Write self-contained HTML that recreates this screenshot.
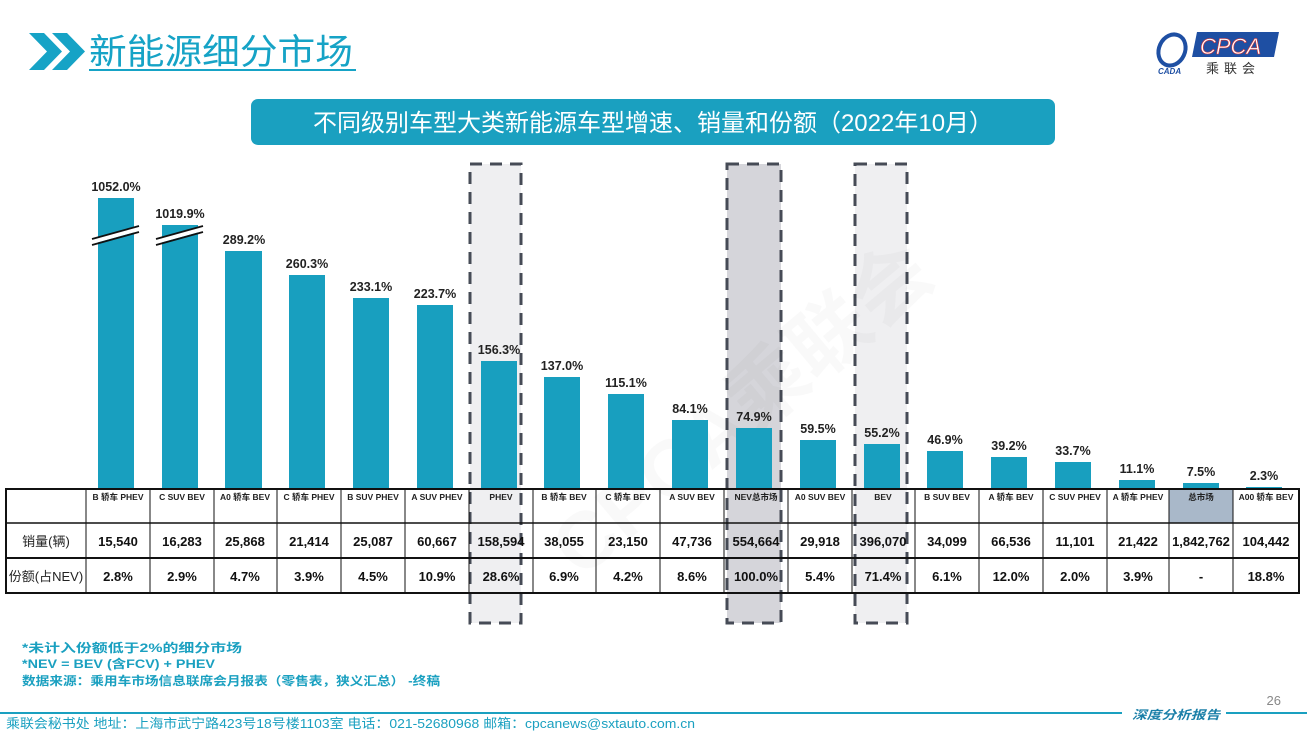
<!DOCTYPE html>
<html><head><meta charset="utf-8"><style>
html,body{margin:0;padding:0;background:#fff;}
svg{display:block;}
text{font-family:"Liberation Sans","Noto Sans CJK SC",sans-serif;}
</style></head><body>
<svg width="1307" height="736" viewBox="0 0 1307 736" xmlns="http://www.w3.org/2000/svg">
<polygon points="29,33 44,33 62,51.5 44,70 29,70 47,51.5" fill="#16a3c6"/>
<polygon points="52,33 67,33 85,51.5 67,70 52,70 70,51.5" fill="#16a3c6"/>
<text x="89" y="64" font-size="35" fill="#16a3c6" textLength="264" lengthAdjust="spacingAndGlyphs">新能源细分市场</text>
<line x1="89" y1="70" x2="356" y2="70" stroke="#16a3c6" stroke-width="2"/>
<ellipse cx="1172" cy="50" rx="13" ry="16" fill="none" stroke="#1e4fa3" stroke-width="4" transform="rotate(25 1172 50)"/>
<text x="1158" y="74" font-size="8" font-weight="bold" font-style="italic" fill="#1e4fa3">CADA</text>
<polygon points="1197,32 1279,32 1274,57 1192,57" fill="#1e4fa3"/>
<text x="1200" y="54" font-size="22" font-style="italic" fill="#fff" stroke="#d33" stroke-width="0.6">CPCA</text>
<text x="1206" y="73" font-size="13" fill="#333" letter-spacing="5">乘联会</text>
<rect x="251" y="99" width="804" height="46" rx="7" fill="#1aa0c0"/>
<text x="653" y="131" font-size="24" fill="#fff" text-anchor="middle">不同级别车型大类新能源车型增速、销量和份额（2022年10月）</text>
<rect x="470" y="164" width="51" height="459" fill="#efeff1" stroke="#464b56" stroke-width="3" stroke-dasharray="12,8"/>
<rect x="727" y="164" width="54" height="459" fill="#d5d5da" stroke="#464b56" stroke-width="3" stroke-dasharray="12,8"/>
<rect x="855" y="164" width="52" height="459" fill="#efeff1" stroke="#464b56" stroke-width="3" stroke-dasharray="12,8"/>
<text x="760" y="430" font-size="80" font-weight="bold" fill="#000" fill-opacity="0.025" text-anchor="middle" transform="rotate(-40 760 430)">CPCA乘联会</text>
<g fill="#189fbf">
<rect x="98" y="198" width="36" height="292"/>
<rect x="162" y="225" width="36" height="265"/>
<rect x="225" y="251" width="37" height="239"/>
<rect x="289" y="275" width="36" height="215"/>
<rect x="353" y="298" width="36" height="192"/>
<rect x="417" y="305" width="36" height="185"/>
<rect x="481" y="361" width="36" height="129"/>
<rect x="544" y="377" width="36" height="113"/>
<rect x="608" y="394" width="36" height="96"/>
<rect x="672" y="420" width="36" height="70"/>
<rect x="736" y="428" width="36" height="62"/>
<rect x="800" y="440" width="36" height="50"/>
<rect x="864" y="444" width="36" height="46"/>
<rect x="927" y="451" width="36" height="39"/>
<rect x="991" y="457" width="36" height="33"/>
<rect x="1055" y="462" width="36" height="28"/>
<rect x="1119" y="480" width="36" height="10"/>
<rect x="1183" y="483" width="36" height="7"/>
<rect x="1246" y="487" width="36" height="3"/>
</g>
<polygon points="92,239 139,226 139,231 92,244" fill="#fff"/>
<line x1="92" y1="239" x2="139" y2="226" stroke="#111" stroke-width="1.8"/>
<line x1="92" y1="245" x2="139" y2="232" stroke="#111" stroke-width="1.8"/>
<polygon points="156,239 203,226 203,231 156,244" fill="#fff"/>
<line x1="156" y1="239" x2="203" y2="226" stroke="#111" stroke-width="1.8"/>
<line x1="156" y1="245" x2="203" y2="232" stroke="#111" stroke-width="1.8"/>
<g font-size="12.5" font-weight="bold" fill="#222" text-anchor="middle">
<text x="116" y="191">1052.0%</text>
<text x="180" y="218">1019.9%</text>
<text x="244" y="244">289.2%</text>
<text x="307" y="268">260.3%</text>
<text x="371" y="291">233.1%</text>
<text x="435" y="298">223.7%</text>
<text x="499" y="354">156.3%</text>
<text x="562" y="370">137.0%</text>
<text x="626" y="387">115.1%</text>
<text x="690" y="413">84.1%</text>
<text x="754" y="421">74.9%</text>
<text x="818" y="433">59.5%</text>
<text x="882" y="437">55.2%</text>
<text x="945" y="444">46.9%</text>
<text x="1009" y="450">39.2%</text>
<text x="1073" y="455">33.7%</text>
<text x="1137" y="473">11.1%</text>
<text x="1201" y="476">7.5%</text>
<text x="1264" y="480">2.3%</text>
</g>
<rect x="1169" y="489" width="64" height="34" fill="#a9b8c9"/>
<g stroke="#111" stroke-width="1" fill="none">
<rect x="6" y="489" width="1293" height="104" stroke-width="2"/>
<line x1="6" y1="523" x2="1299" y2="523" stroke-width="1.5"/>
<line x1="6" y1="558" x2="1299" y2="558" stroke-width="2"/>
<line x1="86" y1="489" x2="86" y2="593"/><line x1="150" y1="489" x2="150" y2="593"/><line x1="214" y1="489" x2="214" y2="593"/><line x1="277" y1="489" x2="277" y2="593"/><line x1="341" y1="489" x2="341" y2="593"/><line x1="405" y1="489" x2="405" y2="593"/><line x1="469" y1="489" x2="469" y2="593"/><line x1="533" y1="489" x2="533" y2="593"/><line x1="596" y1="489" x2="596" y2="593"/><line x1="660" y1="489" x2="660" y2="593"/><line x1="724" y1="489" x2="724" y2="593"/><line x1="788" y1="489" x2="788" y2="593"/><line x1="852" y1="489" x2="852" y2="593"/><line x1="915" y1="489" x2="915" y2="593"/><line x1="979" y1="489" x2="979" y2="593"/><line x1="1043" y1="489" x2="1043" y2="593"/><line x1="1107" y1="489" x2="1107" y2="593"/><line x1="1169" y1="489" x2="1169" y2="593"/><line x1="1233" y1="489" x2="1233" y2="593"/>
</g>
<g font-size="8.5" font-weight="bold" fill="#222" text-anchor="middle">
<text x="118" y="500">B 轿车 PHEV</text><text x="182" y="500">C SUV BEV</text><text x="245" y="500">A0 轿车 BEV</text><text x="309" y="500">C 轿车 PHEV</text><text x="373" y="500">B SUV PHEV</text><text x="437" y="500">A SUV PHEV</text><text x="501" y="500">PHEV</text><text x="564" y="500">B 轿车 BEV</text><text x="628" y="500">C 轿车 BEV</text><text x="692" y="500">A SUV BEV</text><text x="756" y="500">NEV总市场</text><text x="820" y="500">A0 SUV BEV</text><text x="883" y="500">BEV</text><text x="947" y="500">B SUV BEV</text><text x="1011" y="500">A 轿车 BEV</text><text x="1075" y="500">C SUV PHEV</text><text x="1138" y="500">A 轿车 PHEV</text><text x="1201" y="500">总市场</text><text x="1266" y="500">A00 轿车 BEV</text>
</g>
<g font-size="13" fill="#222" text-anchor="middle">
<text x="46" y="546">销量(辆)</text><text x="46" y="581">份额(占NEV)</text>
</g>
<g font-size="13" font-weight="bold" fill="#111" text-anchor="middle">
<text x="118" y="546">15,540</text><text x="182" y="546">16,283</text><text x="245" y="546">25,868</text><text x="309" y="546">21,414</text><text x="373" y="546">25,087</text><text x="437" y="546">60,667</text><text x="501" y="546">158,594</text><text x="564" y="546">38,055</text><text x="628" y="546">23,150</text><text x="692" y="546">47,736</text><text x="756" y="546">554,664</text><text x="820" y="546">29,918</text><text x="883" y="546">396,070</text><text x="947" y="546">34,099</text><text x="1011" y="546">66,536</text><text x="1075" y="546">11,101</text><text x="1138" y="546">21,422</text><text x="1201" y="546">1,842,762</text><text x="1266" y="546">104,442</text>
<text x="118" y="581">2.8%</text><text x="182" y="581">2.9%</text><text x="245" y="581">4.7%</text><text x="309" y="581">3.9%</text><text x="373" y="581">4.5%</text><text x="437" y="581">10.9%</text><text x="501" y="581">28.6%</text><text x="564" y="581">6.9%</text><text x="628" y="581">4.2%</text><text x="692" y="581">8.6%</text><text x="756" y="581">100.0%</text><text x="820" y="581">5.4%</text><text x="883" y="581">71.4%</text><text x="947" y="581">6.1%</text><text x="1011" y="581">12.0%</text><text x="1075" y="581">2.0%</text><text x="1138" y="581">3.9%</text><text x="1201" y="581">-</text><text x="1266" y="581">18.8%</text>
</g>
<g font-size="12" font-weight="bold" fill="#1aa0c0">
<text x="22" y="652" textLength="220" lengthAdjust="spacingAndGlyphs">*未计入份额低于2%的细分市场</text>
<text x="22" y="668" textLength="193" lengthAdjust="spacingAndGlyphs">*NEV = BEV (含FCV) + PHEV</text>
<text x="22" y="685" textLength="418" lengthAdjust="spacingAndGlyphs">数据来源：乘用车市场信息联席会月报表（零售表，狭义汇总） -终稿</text>
</g>
<text x="1281" y="705" font-size="13" fill="#888" text-anchor="end">26</text>
<line x1="0" y1="713" x2="1122" y2="713" stroke="#1aa0c0" stroke-width="2"/>
<line x1="1226" y1="713" x2="1307" y2="713" stroke="#1aa0c0" stroke-width="2"/>
<text x="1132" y="719" font-size="12" font-weight="bold" font-style="italic" fill="#1a7fa8" textLength="88" lengthAdjust="spacingAndGlyphs">深度分析报告</text>
<text x="6" y="728" font-size="13" fill="#1aa0c0" textLength="689" lengthAdjust="spacingAndGlyphs">乘联会秘书处  地址：上海市武宁路423号18号楼1103室  电话：021-52680968  邮箱：cpcanews@sxtauto.com.cn</text>
</svg>
</body></html>
